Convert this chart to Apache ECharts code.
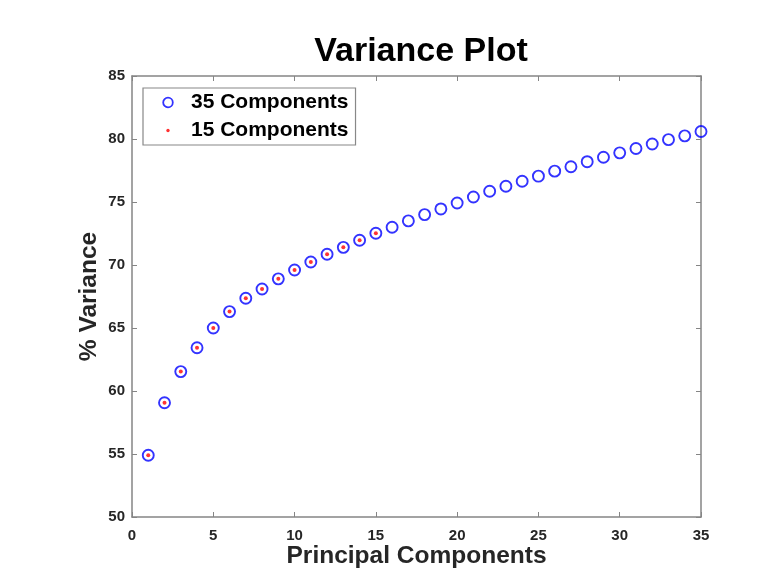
<!DOCTYPE html>
<html><head><meta charset="utf-8">
<script src="https://cdn.jsdelivr.net/npm/echarts@6/dist/echarts.min.js"></script>
<style>html,body{margin:0;padding:0;background:#fff}#c{width:761px;height:586px}</style>
</head><body><div id="c"></div>
<script>
const components35 = [1,2,3,4,5,6,7,8,9,10,11,12,13,14,15,16,17,18,19,20,21,22,23,24,25,26,27,28,29,30,31,32,33,34,35];
const variance35 = [54.9,59.07,61.54,63.43,65.0,66.3,67.36,68.1,68.9,69.6,70.24,70.85,71.4,71.96,72.52,73.0,73.5,74.0,74.45,74.92,75.4,75.85,76.25,76.65,77.05,77.45,77.8,78.2,78.55,78.9,79.25,79.6,79.95,80.25,80.6];
const components15 = components35.slice(0,15);
const variance15 = variance35.slice(0,15);
const xTicks = [0,5,10,15,20,25,30,35];
const yTicks = [50,55,60,65,70,75,80,85];

const FONT = '"Liberation Sans", Arial, sans-serif';
const axisCol = '#858585';
const dotIcon = 'image://data:image/svg+xml;utf8,' + encodeURIComponent(
  '<svg xmlns="http://www.w3.org/2000/svg" width="14" height="14"><circle cx="7" cy="7" r="1.7" fill="#ff0000"/></svg>');
const ringIcon = 'image://data:image/svg+xml;utf8,' + encodeURIComponent(
  '<svg xmlns="http://www.w3.org/2000/svg" width="14" height="14"><circle cx="7" cy="7" r="4.8" fill="none" stroke="#0000ff" stroke-width="1.8"/></svg>');
const chart = echarts.init(document.getElementById('c'), null, {renderer:'canvas'});
function axisBase(extra){
  return Object.assign({
    axisLine:{show:true,onZero:false,lineStyle:{color:axisCol,width:1.5}},
    axisTick:{show:true,inside:true,length:5,lineStyle:{color:axisCol,width:1}},
    splitLine:{show:false},
    axisLabel:{show:false}
  }, extra);
}
chart.setOption({
  animation:false,
  backgroundColor:'#fff',
  title:{text:'Variance Plot',left:416,top:30,textAlign:'center',
    textStyle:{fontFamily:FONT,fontWeight:'bold',fontSize:34,color:'#000'}},
  grid:{left:132,top:76,width:569,height:441},
  xAxis:[
    axisBase({type:'value',min:0,max:35,interval:5,position:'bottom',
      name:'Principal Components',nameLocation:'middle',nameGap:27,nameMoveOverlap:false,
      nameTextStyle:{fontFamily:FONT,fontWeight:'bold',fontSize:24.5,color:'#262626'},
      axisLabel:{show:true,margin:11,fontFamily:FONT,fontWeight:'bold',fontSize:15,color:'#262626',
        formatter:v=>xTicks.includes(v)?String(v):''}}),
    axisBase({type:'value',min:0,max:35,interval:5,position:'top'})
  ],
  yAxis:[
    axisBase({type:'value',min:50,max:85,interval:5,position:'left',
      name:'% Variance',nameLocation:'middle',nameGap:30,nameMoveOverlap:false,
      nameTextStyle:{fontFamily:FONT,fontWeight:'bold',fontSize:24.5,color:'#262626'},
      axisLabel:{show:true,margin:7,fontFamily:FONT,fontWeight:'bold',fontSize:15,color:'#262626',
        formatter:v=>yTicks.includes(v)?String(v):''}}),
    axisBase({type:'value',min:50,max:85,interval:5,position:'right'})
  ],
  legend:{
    left:143,top:88,orient:'vertical',
    backgroundColor:'#fff',borderColor:'#888',borderWidth:1.2,borderRadius:0,
    padding:[4,7,4,18],itemGap:7,itemWidth:14,itemHeight:14,
    textStyle:{fontFamily:FONT,fontWeight:'bold',fontSize:21,lineHeight:20,color:'#000',padding:[0,0,0,11]},
    data:[{name:'35 Components',icon:ringIcon},{name:'15 Components',icon:dotIcon}]
  },
  series:[
    {name:'35 Components',type:'scatter',xAxisIndex:0,yAxisIndex:0,
      data:components35.map((c,i)=>[c,variance35[i]]),
      symbol:'circle',symbolSize:11,
      itemStyle:{color:'rgba(255,255,255,0)',borderColor:'#0000ff',borderWidth:1.9}},
    {name:'15 Components',type:'scatter',xAxisIndex:0,yAxisIndex:0,
      data:components15.map((c,i)=>[c,variance15[i]]),
      symbol:'circle',symbolSize:4,
      itemStyle:{color:'#ff0000'}}
  ]
});
</script></body></html>
